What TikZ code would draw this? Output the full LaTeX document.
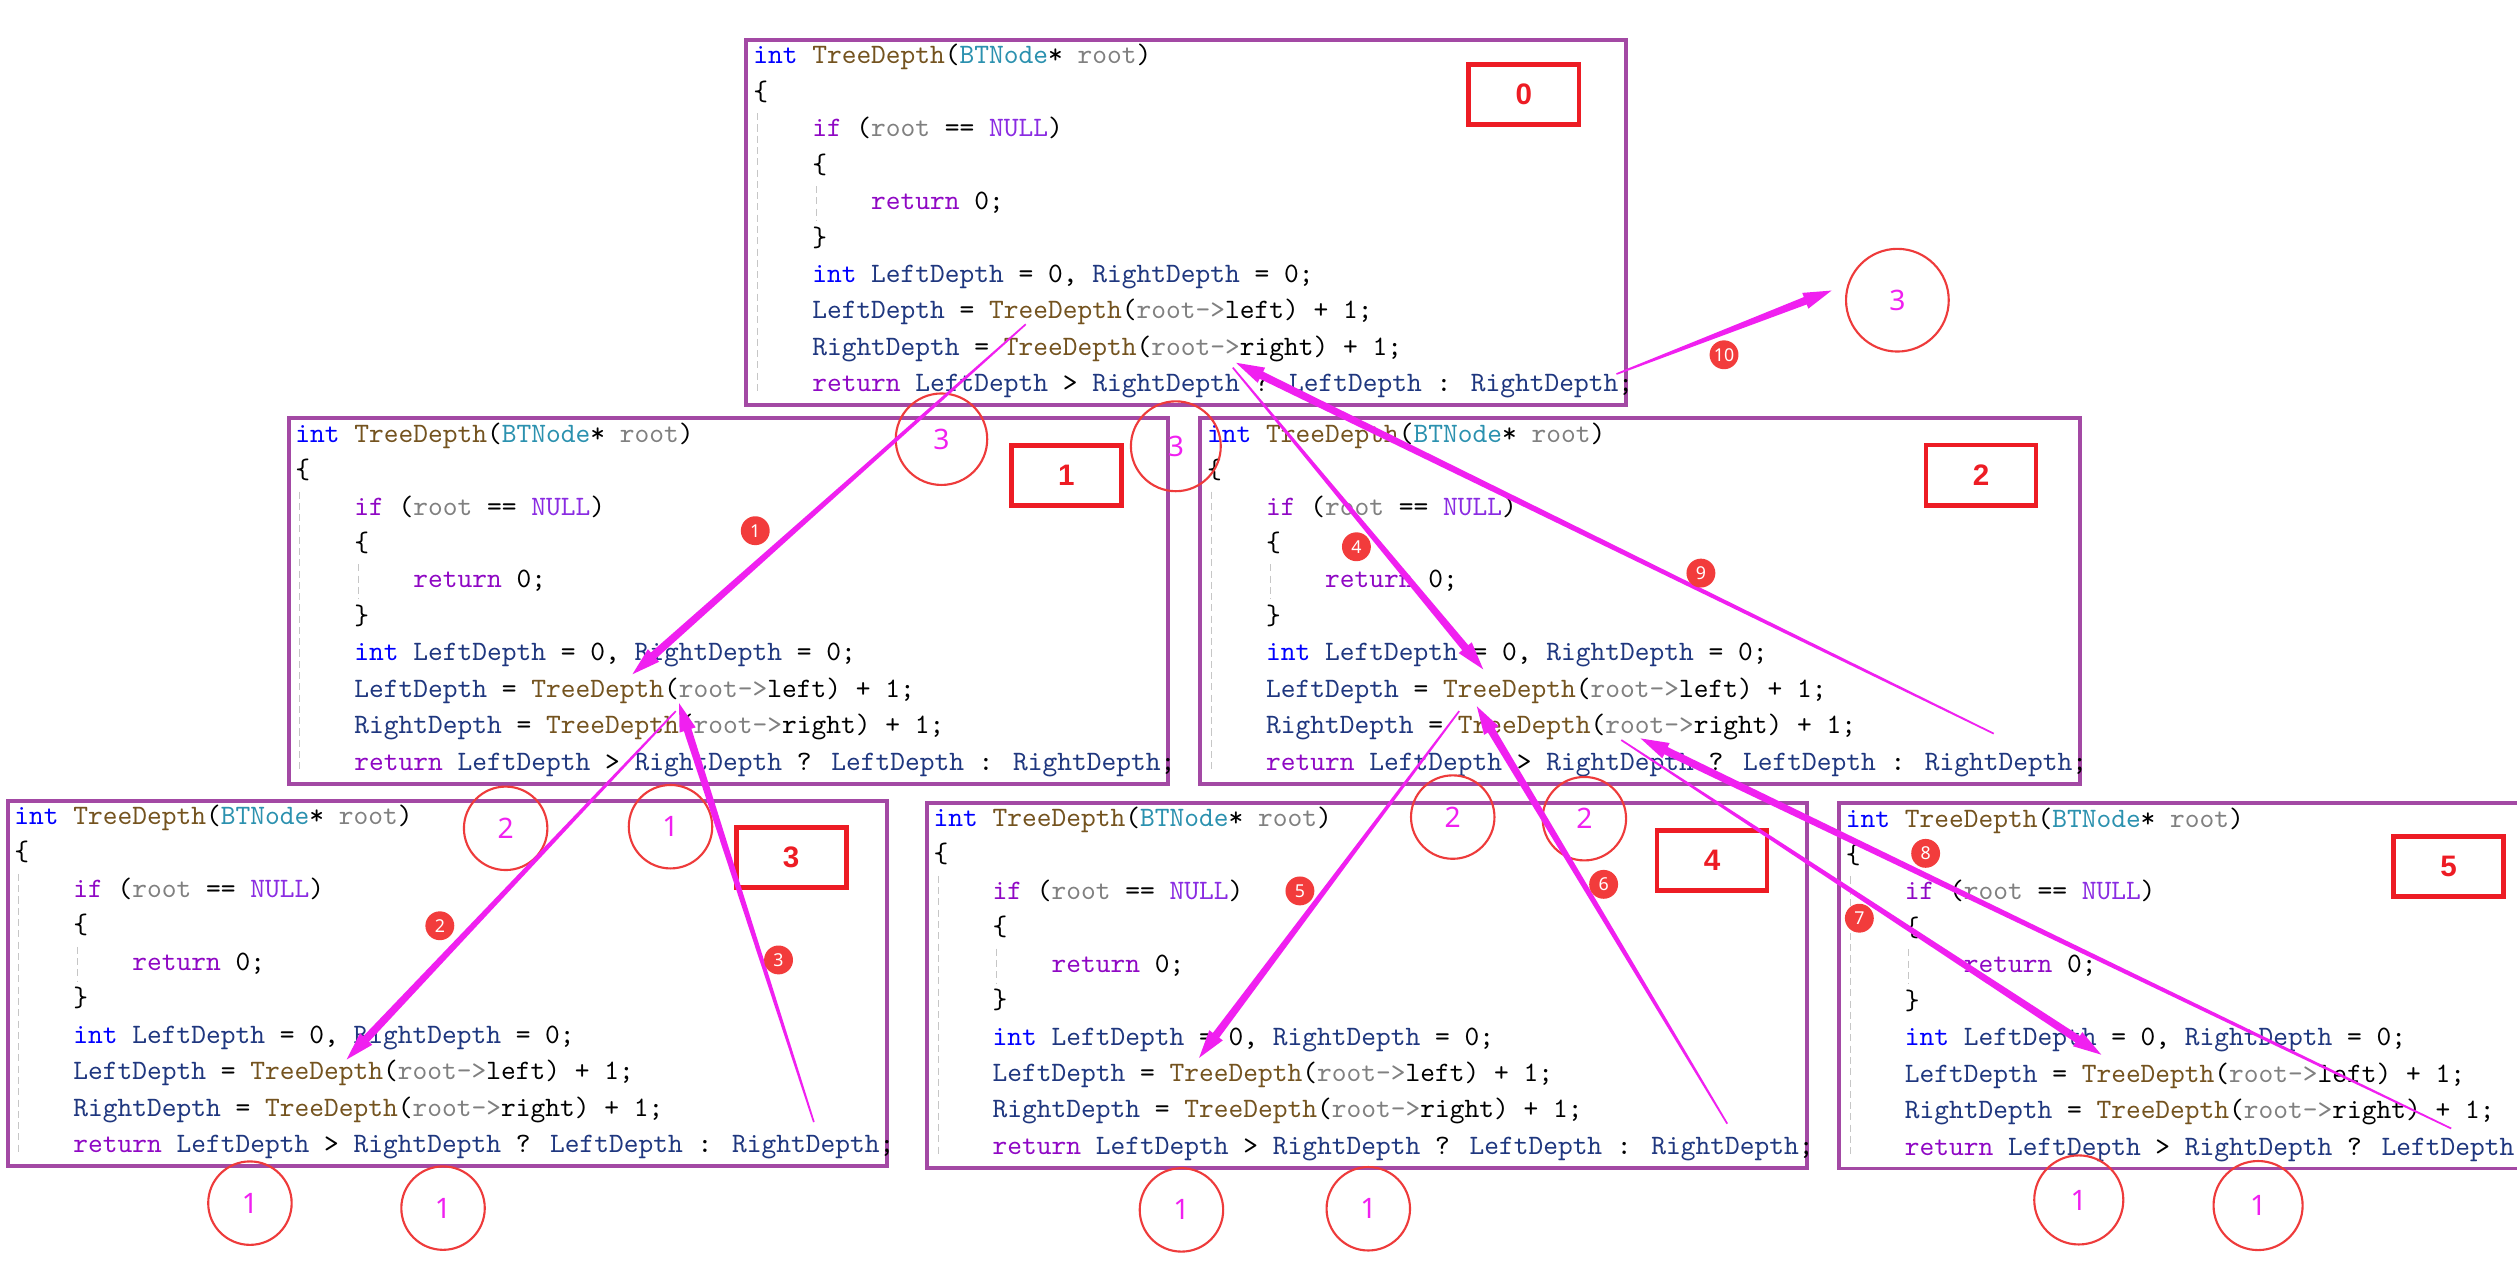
\documentclass[tikz,border=0pt]{standalone}
\usepackage{fontspec}
\usepackage{xcolor}
\usetikzlibrary{calc}
\newfontfamily\zahlfont{Noto Sans}
\newfontfamily\fettfont{Liberation Sans}

% Farben
\definecolor{rahmenlila}{HTML}{A349A4}
\definecolor{etikettrot}{HTML}{ED1C24}
\definecolor{kreisrot}{HTML}{EE3B3B}
\definecolor{pink}{HTML}{F020F0}
\definecolor{markenrot}{HTML}{F23C3C}
\definecolor{kint}{HTML}{0000FF}
\definecolor{kfun}{HTML}{74531F}
\definecolor{ktyp}{HTML}{2B91AF}
\definecolor{kpar}{HTML}{808080}
\definecolor{kflow}{HTML}{8F08C4}
\definecolor{knull}{HTML}{8A2BE2}
\definecolor{kvar}{HTML}{1F377F}

% Quelltext
\newcommand\cint[1]{\textcolor{kint}{#1}}
\newcommand\cfun[1]{\textcolor{kfun}{#1}}
\newcommand\ctyp[1]{\textcolor{ktyp}{#1}}
\newcommand\cpar[1]{\textcolor{kpar}{#1}}
\newcommand\cflow[1]{\textcolor{kflow}{#1}}
\newcommand\cnull[1]{\textcolor{knull}{#1}}
\newcommand\cvar[1]{\textcolor{kvar}{#1}}
\newcommand\ein{\phantom{xxxx}}
\newcommand\baumcode[1]{%
	\strut\cint{int} \cfun{TreeDepth}(\ctyp{BTNode}* \cpar{root})\\
	\{\\
	\ein\cflow{if} (\cpar{root} == \cnull{NULL})\\
	\ein\{\\
	\ein\ein\cflow{return} 0;\\
	\ein\}\\
	\ein\cint{int} \cvar{LeftDepth} = 0, \cvar{RightDepth} = 0;\\
	\ein\cvar{LeftDepth} = \cfun{TreeDepth}(\cpar{root->}left) + 1;\\
	\ein\cvar{RightDepth} = \cfun{TreeDepth}(\cpar{root->}right) + 1;\\
	\ein\cflow{return} \cvar{LeftDepth} > \cvar{RightDepth} ? \cvar{LeftDepth}#1}

% Rahmen mit Code: Name, linke obere Ecke, Ende der letzten Zeile
\newcommand\codeframe[4]{%
	\draw[rahmen] (#2,#3) rectangle ++(548,227.5);
	\draw[fuehrung] (#2+7,#3+45.6) -- (#2+7,#3+220);
	\draw[fuehrung] (#2+43.5,#3+91) -- (#2+43.5,#3+112.5);
	\node[quelltext] (#1) at (#2+3.9,#3-1.4) {\baumcode{#4}};}

% Pfeil, duenn am Anfang, dick an der Spitze
\newcommand\pfeil[2]{%
	\coordinate (#2m) at ($(#2)!10pt!(#1)$);
	\fill[pink] ($(#1)!0.3pt!90:(#2)$) -- ($(#2m)!1.4pt!90:(#2)$) -- ($(#2m)!3pt!90:(#2)$) -- (#2)
		-- ($(#2m)!3pt!-90:(#2)$) -- ($(#2m)!1.4pt!-90:(#2)$) -- ($(#1)!0.3pt!-90:(#2)$) -- cycle;}

\begin{document}
\begin{tikzpicture}[x=0.02cm,y=-0.02cm,
		rahmen/.style={draw=rahmenlila, line width=1.4pt},
		fuehrung/.style={draw=gray!45, line width=0.4pt, dash pattern=on 2.5pt off 1.5pt},
		quelltext/.style={anchor=north west, inner sep=0pt, align=left, font=\fontsize{9.96}{12.92}\selectfont\ttfamily},
		etikett/.style={draw=etikettrot, line width=1.7pt, minimum width=1.372cm, minimum height=0.75cm, inner sep=0pt, text=etikettrot, font=\fettfont\bfseries\fontsize{10.5}{12}\selectfont},
		kreis/.style={circle, draw=kreisrot, line width=0.75pt, minimum size=1.04cm, inner sep=0pt, text=pink, font=\zahlfont\fontsize{10}{12}\selectfont},
		marke/.style={circle, fill=markenrot, minimum size=0.36cm, inner sep=0pt, text=white, font=\zahlfont\fontsize{6.3}{7}\selectfont}]

		% Hintergrund
		\useasboundingbox (0,0) rectangle (1568,799.3);
		\clip (0,0) rectangle (1568,799.3);
		\fill[white] (0,0) rectangle (1568,799.3);

		% Rahmen
		\codeframe{c0}{465}{24.9}{ : \cvar{RightDepth};}
		\codeframe{c1}{179.8}{260.6}{ : \cvar{RightDepth};}
		\codeframe{c2}{747.8}{260.6}{ : \cvar{RightDepth};}
		\codeframe{c3}{4.7}{498.8}{ : \cvar{RightDepth};}
		\codeframe{c4}{577.4}{500}{ : \cvar{RightDepth};}
		\codeframe{c5}{1145.6}{500.4}{}

		% Nummern der Aufrufe
		\node[etikett] (t0) at (949.3,58.8) {0};
		\node[etikett] (t1) at (664.3,296.3) {1};
		\node[etikett] (t2) at (1234.1,296) {2};
		\node[etikett] (t3) at (492.9,534.3) {3};
		\node[etikett] (t4) at (1066.5,536) {4};
		\node[etikett] (t5) at (1525.4,539.6) {5};

		% Kreise
		\node[kreis, minimum size=1.28cm] (k1) at (1182,187) {3};
		\node[kreis, minimum size=1.14cm] (k2) at (586.5,273.6) {3};
		\node[kreis, minimum size=1.12cm] (k3) at (732.5,278) {3};
		\node[kreis] (k4) at (315,516) {2};
		\node[kreis] (k5) at (417.7,515) {1};
		\node[kreis] (k6) at (155.7,749.5) {1};
		\node[kreis] (k7) at (276,752.6) {1};
		\node[kreis] (k8) at (905,509) {2};
		\node[kreis] (k9) at (987,510) {2};
		\node[kreis] (k10) at (736,753.7) {1};
		\node[kreis] (k11) at (852.4,753) {1};
		\node[kreis, minimum size=1.11cm] (k12) at (1295,747.5) {1};
		\node[kreis, minimum size=1.11cm] (k13) at (1406.7,751) {1};

		% Pfeile: Anfang a, Spitze b
		\coordinate (a1) at (639,202);  \coordinate (b1) at (394,420);
		\coordinate (a2) at (421,443);  \coordinate (b2) at (216,660);
		\coordinate (a3) at (507,699);  \coordinate (b3) at (423,438);
		\coordinate (a4) at (768,229);  \coordinate (b4) at (924,417);
		\coordinate (a5) at (909,443);  \coordinate (b5) at (747,659);
		\coordinate (a6) at (1076,700); \coordinate (b6) at (920,440);
		\coordinate (a7) at (1010,461); \coordinate (b7) at (1309,657);
		\coordinate (a8) at (1527,703); \coordinate (b8) at (1022,460);
		\coordinate (a9) at (1242,457); \coordinate (b9) at (770,226);
		\coordinate (a10) at (1007,233); \coordinate (b10) at (1141,181);
		\pfeil{a1}{b1}
		\pfeil{a2}{b2}
		\pfeil{a3}{b3}
		\pfeil{a4}{b4}
		\pfeil{a5}{b5}
		\pfeil{a6}{b6}
		\pfeil{a7}{b7}
		\pfeil{a8}{b8}
		\pfeil{a9}{b9}
		\pfeil{a10}{b10}

		% Reihenfolge
		\node[marke] (s1) at (470.5,330.6) {1};
		\node[marke] (s2) at (274,576.7) {2};
		\node[marke] (s3) at (485,598) {3};
		\node[marke] (s4) at (845,340.6) {4};
		\node[marke] (s5) at (809.8,555) {5};
		\node[marke] (s6) at (999,550.9) {6};
		\node[marke] (s7) at (1158.3,572) {7};
		\node[marke] (s8) at (1199.6,531.6) {8};
		\node[marke] (s9) at (1059.6,357) {9};
		\node[marke] (s10) at (1074,221) {10};
	\end{tikzpicture}
\end{document}
